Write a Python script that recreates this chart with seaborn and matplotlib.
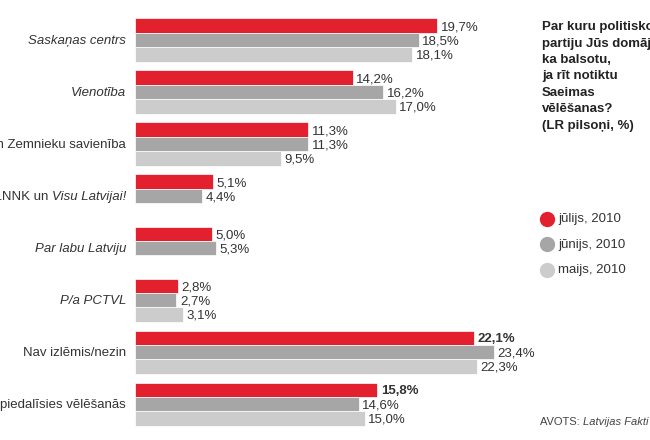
import numpy as np
import pandas as pd
import matplotlib
matplotlib.use("Agg")
import matplotlib.pyplot as plt
import seaborn as sns

categories = ["Saskaņas centrs", "Vienotība", "Zaļo un Zemnieku savienība",
              "TB/LNNK un Visu Latvijai!", "Par labu Latviju", "P/a PCTVL",
              "Nav izlēmis/nezin", "Nepiedalīsies vēlēšanās"]
julijs = [19.7, 14.2, 11.3, 5.1, 5.0, 2.8, 22.1, 15.8]
junijs = [18.5, 16.2, 11.3, 4.4, 5.3, 2.7, 23.4, 14.6]
maijs = [18.1, 17.0, 9.5, np.nan, np.nan, 3.1, 22.3, 15.0]
series = ["jūlijs, 2010", "jūnijs, 2010", "maijs, 2010"]
colors = ["#e3202e", "#a6a6a6", "#cccccc"]
italic = [True, True, False, None, True, True, False, False]
bold_red = [False, False, False, False, False, False, True, True]

df = pd.DataFrame({
    "partija": categories * 3,
    "vertiba": julijs + junijs + maijs,
    "periods": [series[0]] * 8 + [series[1]] * 8 + [series[2]] * 8,
})

sns.set_style("white")
plt.rcParams['font.family'] = ['Liberation Sans', 'DejaVu Sans']

fig = plt.figure(figsize=(6.5, 4.4), dpi=100)
ax = fig.add_axes([135 / 650, 0, 515 / 650, 1])
sns.barplot(data=df, y="partija", x="vertiba", hue="periods", order=categories,
            hue_order=series, palette=colors, saturation=1, orient="h",
            width=0.83, edgecolor="white", linewidth=0.5, legend=False, ax=ax)

ax.set_xlim(0, 515 / 15.33)
ax.set_ylim(7.69, -0.77)
ax.set_xlabel("")
ax.set_ylabel("")
ax.set_xticks([])
ax.set_yticks([])
sns.despine(ax=ax, left=True, bottom=True)

# value labels
for k, cont in enumerate(ax.containers):
    for i, bar in enumerate(cont):
        w = bar.get_width()
        if np.isnan(w) or w == 0:
            continue
        txt = f"{w:.1f}%".replace(".", ",")
        wt = "bold" if (k == 0 and bold_red[i]) else "normal"
        ax.annotate(txt, (w, bar.get_y() + bar.get_height() / 2),
                    xytext=(2.5, -1), textcoords="offset points",
                    ha="left", va="center", fontsize=9.5, color="#333333",
                    fontweight=wt)

# category labels
for i, name in enumerate(categories):
    y = 1 - (40 + 52 * i + 1) / 440
    if italic[i] is None:
        t = fig.text(126 / 650, y, "Visu Latvijai!", ha="right", va="center",
                     fontsize=9.5, style="italic", color="#333333")
        ax.annotate("TB/LNNK un ", xy=(0, 0.5), xycoords=t, ha="right",
                    va="center", fontsize=9.5, color="#333333",
                    annotation_clip=False)
    else:
        fig.text(126 / 650, y, name, ha="right", va="center", fontsize=9.5,
                 style="italic" if italic[i] else "normal", color="#333333")

# title
fig.text(542 / 650, 1 - 21 / 440,
         "Par kuru politisko\npartiju Jūs domājat,\nka balsotu,\nja rīt notiktu\n"
         "Saeimas\nvēlēšanas?\n(LR pilsoņi, %)",
         ha="left", va="top", fontsize=9.5, fontweight="bold", color="#222222",
         linespacing=1.5)

# legend
for j, (lab, c) in enumerate(zip(series, colors)):
    yy = 1 - (219 + 25.5 * j) / 440
    fig.lines.append(plt.Line2D([547 / 650], [yy], marker="o", markersize=10,
                                color=c, transform=fig.transFigure))
    fig.text(558 / 650, yy, lab, ha="left", va="center", fontsize=9.5,
             color="#333333")

t = fig.text(540 / 650, 1 - 422 / 440, "AVOTS: ", ha="left", va="center",
             fontsize=8, color="#444444")
ax.annotate("Latvijas Fakti", xy=(1, 0.5), xycoords=t, ha="left", va="center",
            fontsize=8, style="italic", color="#444444", annotation_clip=False)

fig.savefig("out.png", dpi=100)
